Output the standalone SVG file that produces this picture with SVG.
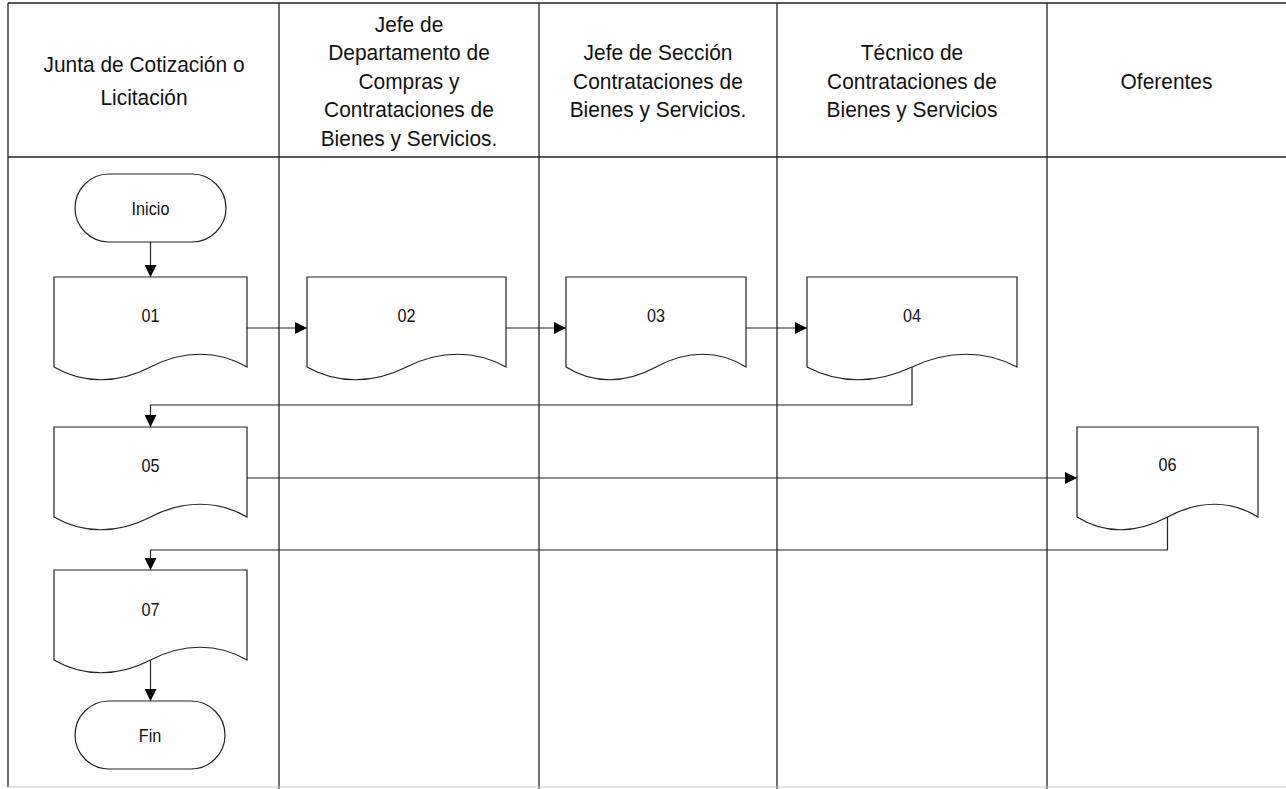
<svg xmlns="http://www.w3.org/2000/svg" width="1286" height="789" viewBox="0 0 1286 789">
<style>
.grid{stroke:#222;stroke-width:1.3;fill:none}
.shape{fill:#fff;stroke:#222;stroke-width:1.2}
.conn{fill:none;stroke:#222;stroke-width:1.2}
.hdr{font-family:"Liberation Sans",Arial,sans-serif;font-size:22.5px;fill:#111;text-anchor:middle}
.lbl{font-family:"Liberation Sans",Arial,sans-serif;font-size:18px;fill:#111;text-anchor:middle}
</style>
<defs>
<marker id="arr" markerUnits="userSpaceOnUse" markerWidth="12" markerHeight="12" viewBox="0 0 12 12" refX="12" refY="6" orient="auto">
<path d="M0,0 L12,6 L0,12 Z" fill="#000"/>
</marker>
</defs>
<rect width="1286" height="789" fill="#fff"/>
<g id="frame">
<line class="grid" x1="8" y1="3" x2="1286" y2="3"/>
<line class="grid" x1="8" y1="3" x2="8" y2="787"/>
<line class="grid" x1="8" y1="157" x2="1286" y2="157" stroke="#444"/>
<line class="grid" x1="279" y1="3" x2="279" y2="789"/>
<line class="grid" x1="539" y1="3" x2="539" y2="789"/>
<line class="grid" x1="777" y1="3" x2="777" y2="789"/>
<line class="grid" x1="1047" y1="3" x2="1047" y2="789"/>
<line x1="8" y1="787" x2="1286" y2="787" stroke="#ccc" stroke-width="1"/>
</g>
<g id="headers">
<text class="hdr" transform="translate(144,72) scale(0.93,1)">Junta de Cotización o</text>
<text class="hdr" transform="translate(144,105) scale(0.93,1)">Licitación</text>
<text class="hdr" transform="translate(409,31.5) scale(0.93,1)">Jefe de</text>
<text class="hdr" transform="translate(409,60) scale(0.93,1)">Departamento de</text>
<text class="hdr" transform="translate(409,88.5) scale(0.93,1)">Compras y</text>
<text class="hdr" transform="translate(409,117) scale(0.93,1)">Contrataciones de</text>
<text class="hdr" transform="translate(409,145.5) scale(0.93,1)">Bienes y Servicios.</text>
<text class="hdr" transform="translate(658,60) scale(0.93,1)">Jefe de Sección</text>
<text class="hdr" transform="translate(658,88.5) scale(0.93,1)">Contrataciones de</text>
<text class="hdr" transform="translate(658,117) scale(0.93,1)">Bienes y Servicios.</text>
<text class="hdr" transform="translate(912,60) scale(0.93,1)">Técnico de</text>
<text class="hdr" transform="translate(912,88.5) scale(0.93,1)">Contrataciones de</text>
<text class="hdr" transform="translate(912,117) scale(0.93,1)">Bienes y Servicios</text>
<text class="hdr" transform="translate(1166.5,88.5) scale(0.93,1)">Oferentes</text>
</g>
<g id="connectors">
<line class="conn" x1="150.5" y1="242" x2="150.5" y2="277" marker-end="url(#arr)"/>
<line class="conn" x1="247" y1="328" x2="307" y2="328" marker-end="url(#arr)"/>
<line class="conn" x1="506" y1="328" x2="566" y2="328" marker-end="url(#arr)"/>
<line class="conn" x1="746" y1="328" x2="807" y2="328" marker-end="url(#arr)"/>
<polyline class="conn" points="912,367 912,405 150.5,405 150.5,427" marker-end="url(#arr)"/>
<line class="conn" x1="247" y1="478" x2="1077" y2="478" marker-end="url(#arr)"/>
<polyline class="conn" points="1167.5,517 1167.5,550 150.5,550 150.5,570" marker-end="url(#arr)"/>
<line class="conn" x1="150.5" y1="660" x2="150.5" y2="701" marker-end="url(#arr)"/>
</g>
<g id="inicio">
<rect class="shape" x="75" y="174" width="151" height="68" rx="34"/>
<text class="lbl" transform="translate(150.5,214.5) scale(0.9,1)">Inicio</text>
</g>
<g id="n01">
<path class="shape" d="M54,277 H247 V367 C218,350 183,350 150.5,367 C118,384 83,384 54,367 Z"/>
<text class="lbl" transform="translate(150.5,322) scale(0.9,1)">01</text>
</g>
<g id="n02">
<path class="shape" d="M307,277 H506 V367 C476,350 440,350 406.5,367 C373,384 337,384 307,367 Z"/>
<text class="lbl" transform="translate(406.5,322) scale(0.9,1)">02</text>
</g>
<g id="n03">
<path class="shape" d="M566,277 H746 V367 C719,350 687,350 656,367 C625,384 593,384 566,367 Z"/>
<text class="lbl" transform="translate(656,322) scale(0.9,1)">03</text>
</g>
<g id="n04">
<path class="shape" d="M807,277 H1017 V367 C985,350 948,350 912,367 C876,384 839,384 807,367 Z"/>
<text class="lbl" transform="translate(912,322) scale(0.9,1)">04</text>
</g>
<g id="n05">
<path class="shape" d="M54,427 H247 V517 C218,500 183,500 150.5,517 C118,534 83,534 54,517 Z"/>
<text class="lbl" transform="translate(150.5,471.5) scale(0.9,1)">05</text>
</g>
<g id="n06">
<path class="shape" d="M1077,427 H1258 V517 C1231,500 1199,500 1167.5,517 C1136,534 1104,534 1077,517 Z"/>
<text class="lbl" transform="translate(1167.5,471) scale(0.9,1)">06</text>
</g>
<g id="n07">
<path class="shape" d="M54,570 H247 V660 C218,643 183,643 150.5,660 C118,677 83,677 54,660 Z"/>
<text class="lbl" transform="translate(150.5,616) scale(0.9,1)">07</text>
</g>
<g id="fin">
<rect class="shape" x="75" y="701" width="150" height="68" rx="34"/>
<text class="lbl" transform="translate(150,741.5) scale(0.9,1)">Fin</text>
</g>
</svg>
